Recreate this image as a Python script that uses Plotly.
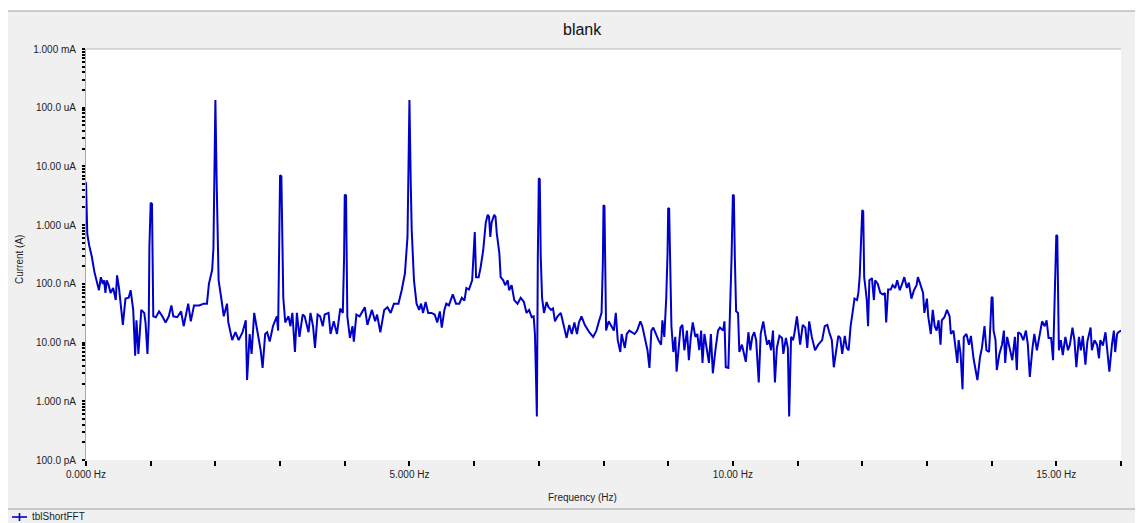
import plotly.graph_objects as go

# ---- data ----
freq_hz = [
    0.00, 0.01, 0.02, 0.05, 0.09, 0.13, 0.175, 0.20, 0.23, 0.26, 0.28, 0.30, 0.32, 0.35, 0.38, 0.42,
    0.46, 0.48, 0.51, 0.54, 0.57, 0.61, 0.66, 0.69, 0.73, 0.76, 0.78, 0.81, 0.83, 0.855, 0.90, 0.92,
    0.95, 0.97, 0.98, 1.00, 1.02, 1.03, 1.04, 1.08, 1.13, 1.18, 1.23, 1.28, 1.32, 1.35, 1.41, 1.47,
    1.51, 1.58, 1.62, 1.67, 1.75, 1.82, 1.87, 1.90, 1.95, 1.97, 1.985, 2.00, 2.02, 2.035, 2.05, 2.09,
    2.13, 2.18, 2.20, 2.26, 2.31, 2.36, 2.42, 2.47, 2.49, 2.53, 2.56, 2.60, 2.65, 2.70, 2.73, 2.77,
    2.80, 2.84, 2.89, 2.95, 2.97, 2.99, 3.00, 3.02, 3.03, 3.05, 3.08, 3.13, 3.16, 3.19, 3.23, 3.26,
    3.30, 3.35, 3.38, 3.44, 3.47, 3.51, 3.54, 3.58, 3.62, 3.66, 3.69, 3.75, 3.78, 3.83, 3.88, 3.93,
    3.97, 3.99, 4.00, 4.02, 4.03, 4.04, 4.08, 4.12, 4.14, 4.18, 4.23, 4.28, 4.31, 4.35, 4.39, 4.42,
    4.47, 4.50, 4.55, 4.61, 4.66, 4.71, 4.76, 4.83, 4.88, 4.93, 4.97, 4.985, 5.00, 5.02, 5.035, 5.07,
    5.11, 5.15, 5.18, 5.21, 5.25, 5.29, 5.34, 5.39, 5.43, 5.47, 5.50, 5.54, 5.57, 5.61, 5.67, 5.72,
    5.77, 5.81, 5.85, 5.88, 5.92, 5.97, 5.99, 6.01, 6.03, 6.07, 6.10, 6.14, 6.18, 6.21, 6.23, 6.25,
    6.27, 6.31, 6.33, 6.35, 6.39, 6.41, 6.45, 6.48, 6.52, 6.54, 6.58, 6.62, 6.67, 6.72, 6.77, 6.81,
    6.85, 6.89, 6.92, 6.94, 6.955, 6.97, 6.985, 7.00, 7.015, 7.03, 7.05, 7.08, 7.12, 7.15, 7.19, 7.22,
    7.25, 7.29, 7.34, 7.39, 7.43, 7.47, 7.51, 7.55, 7.59, 7.62, 7.66, 7.71, 7.78, 7.84, 7.89, 7.93,
    7.97, 7.99, 8.00, 8.015, 8.03, 8.04, 8.08, 8.11, 8.16, 8.19, 8.22, 8.26, 8.28, 8.33, 8.36, 8.40,
    8.44, 8.48, 8.52, 8.57, 8.60, 8.64, 8.68, 8.71, 8.74, 8.77, 8.81, 8.85, 8.89, 8.91, 8.94, 8.97,
    8.99, 9.00, 9.015, 9.03, 9.05, 9.08, 9.11, 9.13, 9.16, 9.19, 9.22, 9.25, 9.29, 9.32, 9.35, 9.38,
    9.42, 9.45, 9.48, 9.51, 9.53, 9.56, 9.60, 9.63, 9.66, 9.69, 9.73, 9.77, 9.80, 9.85, 9.87, 9.89,
    9.93, 9.96, 9.98, 10.00, 10.015, 10.03, 10.05, 10.08, 10.10, 10.14, 10.17, 10.20, 10.24, 10.27, 10.30, 10.33,
    10.36, 10.40, 10.43, 10.47, 10.50, 10.53, 10.56, 10.59, 10.62, 10.65, 10.68, 10.72, 10.76, 10.78, 10.82, 10.85,
    10.87, 10.90, 10.93, 10.95, 10.99, 11.02, 11.04, 11.08, 11.12, 11.15, 11.18, 11.22, 11.27, 11.32, 11.38, 11.42,
    11.46, 11.49, 11.53, 11.56, 11.60, 11.63, 11.66, 11.69, 11.73, 11.76, 11.79, 11.82, 11.85, 11.88, 11.92, 11.94,
    11.96, 11.98, 12.00, 12.015, 12.03, 12.05, 12.07, 12.09, 12.11, 12.15, 12.18, 12.20, 12.24, 12.28, 12.32, 12.35,
    12.37, 12.40, 12.44, 12.47, 12.51, 12.54, 12.58, 12.61, 12.65, 12.69, 12.72, 12.76, 12.80, 12.84, 12.86, 12.89,
    12.94, 12.96, 13.00, 13.02, 13.06, 13.09, 13.12, 13.15, 13.18, 13.21, 13.23, 13.27, 13.31, 13.35, 13.37, 13.41,
    13.44, 13.47, 13.49, 13.52, 13.55, 13.57, 13.61, 13.65, 13.68, 13.72, 13.78, 13.82, 13.85, 13.89, 13.92, 13.96,
    13.98, 14.00, 14.015, 14.03, 14.06, 14.08, 14.12, 14.16, 14.19, 14.21, 14.24, 14.28, 14.32, 14.36, 14.39, 14.41,
    14.45, 14.49, 14.53, 14.56, 14.59, 14.63, 14.66, 14.70, 14.75, 14.78, 14.82, 14.85, 14.88, 14.92, 14.95, 14.97,
    15.00, 15.015, 15.03, 15.04, 15.07, 15.10, 15.14, 15.18, 15.21, 15.25, 15.28, 15.31, 15.35, 15.38, 15.41, 15.45,
    15.48, 15.53, 15.55, 15.59, 15.63, 15.66, 15.68, 15.72, 15.76, 15.79, 15.82, 15.86, 15.89, 15.91, 15.94, 15.96,
    15.99, 16.00,
]

current_nA = [
    5400, 800, 700, 450, 290, 160, 100, 78, 130, 100, 115, 70, 115, 95, 70, 85,
    53, 140, 85, 45, 20, 56, 58, 78, 36, 6.0, 24, 6.4, 16, 36, 32, 22,
    6.4, 22, 420, 2400, 2300, 250, 28, 27, 34, 28, 22, 28, 43, 28, 27, 34,
    19, 46, 23, 43, 43, 46, 46, 100, 172, 400, 17000, 135000, 5400, 250, 115, 58,
    28, 46, 22, 11, 15, 11, 15, 24, 2.3, 14, 6.4, 32, 14, 7.4, 3.7, 14,
    15, 10.4, 19, 28, 16, 330, 7100, 6800, 1370, 58, 22, 28, 19, 32, 6.9, 32,
    12.5, 30, 28, 15, 32, 19, 8.1, 30, 28, 19, 30, 32, 14, 23, 14, 38,
    32, 290, 3300, 3200, 290, 28, 12, 19, 10.4, 30, 28, 34, 40, 20, 28, 36,
    23, 30, 15, 36, 40, 32, 46, 46, 78, 150, 630, 17000, 135000, 5400, 830, 115,
    46, 36, 46, 32, 49, 32, 32, 30, 22, 34, 18, 36, 46, 43, 66, 46,
    46, 58, 52, 85, 80, 115, 250, 760, 130, 130, 190, 370, 1100, 1500, 1400, 630,
    1100, 1500, 1400, 730, 330, 130, 115, 95, 115, 78, 95, 53, 46, 58, 49, 32,
    36, 27, 28, 14, 3.0, 0.55, 300, 6300, 6000, 290, 58, 32, 49, 40, 36, 38,
    23, 28, 32, 19, 12, 20, 14, 22, 14, 22, 28, 20, 15, 12.5, 16, 23,
    32, 220, 2200, 2100, 170, 16, 23, 20, 16, 32, 11, 6.9, 14, 8.1, 14, 16,
    15, 14, 16, 23, 19, 11, 7.4, 3.7, 16, 18, 14, 11, 9.2, 24, 12.5, 58,
    330, 1950, 1900, 190, 19, 6.9, 12.5, 3.2, 9.2, 18, 20, 7.4, 16, 5.0, 12.5, 22,
    12.5, 14, 7.4, 16, 4.5, 14, 7.4, 4.5, 14, 3.0, 7.4, 16, 18, 16, 23, 3.8,
    3.7, 40, 290, 3300, 3200, 290, 34, 32, 6.9, 9.2, 6.4, 4.7, 15, 7.4, 12.5, 15,
    11, 2.1, 14, 23, 14, 9.2, 11, 7.4, 16, 2.1, 8.1, 13, 12, 6.4, 12, 8.1,
    0.55, 12.5, 11, 14, 28, 16, 9.2, 20, 18, 8.1, 23, 12.5, 7.4, 9.2, 11, 19,
    20, 15, 11, 3.8, 8.1, 13, 12, 6.4, 13, 8.1, 7.4, 19, 32, 56, 53, 70,
    130, 420, 1800, 1700, 130, 85, 53, 19, 115, 125, 53, 115, 100, 70, 66, 70,
    22, 80, 80, 95, 85, 115, 78, 95, 130, 85, 105, 56, 78, 95, 130, 105,
    70, 32, 56, 28, 14, 36, 19, 16, 24, 9.2, 24, 27, 36, 28, 14, 16,
    7.4, 4.5, 11, 6.4, 1.6, 12.5, 14, 9.2, 13, 5.4, 2.3, 5.6, 8.1, 19, 7.4, 6.9,
    19, 60, 58, 16, 11, 3.4, 6.4, 9.2, 16, 4.5, 12.5, 8.1, 5.0, 12.5, 3.4, 15,
    14, 11, 16, 9.2, 2.6, 7.8, 14, 7.4, 14, 23, 19, 24, 12, 12, 5.0, 53,
    680, 650, 32, 7.4, 11, 6.1, 12.5, 7.4, 9.2, 18, 11, 3.8, 12.5, 7.4, 13, 4.2,
    10.4, 18, 7.4, 11, 9.2, 5.4, 11, 8.9, 15, 7.4, 3.2, 9.2, 16, 6.9, 14, 15,
    16, 16,
]

series_name = "tblShortFFT"
chart_title = "blank"
x_title = "Frequency (Hz)"
y_title = "Current (A)"

x_tick_vals = list(range(0, 17))
x_tick_labels = {0: "0.000 Hz", 5: "5.000 Hz", 10: "10.00 Hz", 15: "15.00 Hz"}
y_decades_nA = [0.1, 1, 10, 100, 1000, 10000, 100000, 1000000]
y_decade_labels = ["100.0 pA", "1.000 nA", "10.00 nA", "100.0 nA",
                   "1.000 uA", "10.00 uA", "100.0 uA", "1.000 mA"]

# ---- geometry: the page places the figure at an 8px body offset ----
OFF = 8
W, H = 1143 - OFF, 523 - OFF
L, R, T, B = 86 - OFF, 1121 - OFF, 49 - OFF, 460 - OFF


def px(x):  # page pixel x -> paper coordinate
    return (x - OFF - L) / (R - L)


def py(y):  # page pixel y -> paper coordinate
    return (B - (y - OFF)) / (B - T)


# y ticks: decades + 2..9 minor positions, labels only on decades
y_tick_vals, y_tick_text = [], []
for i, d in enumerate(y_decades_nA):
    y_tick_vals.append(d)
    y_tick_text.append(y_decade_labels[i])
    if i < len(y_decades_nA) - 1:
        for m in range(2, 10):
            y_tick_vals.append(d * m)
            y_tick_text.append("")

fig = go.Figure()
fig.add_trace(go.Scatter(
    x=freq_hz, y=current_nA, mode="lines", name=series_name,
    line=dict(color="#0000CC", width=2), showlegend=False,
))

axis_font = dict(family="Liberation Sans, Arial, sans-serif", size=10, color="#222222")

fig.update_layout(
    width=W, height=H,
    margin=dict(l=L, r=W - R, t=T, b=H - B),
    paper_bgcolor="#f0f0f0",
    plot_bgcolor="white",
    showlegend=False,
    xaxis=dict(
        range=[0, 16], tickmode="array", tickvals=x_tick_vals,
        ticktext=[x_tick_labels.get(v, "") for v in x_tick_vals],
        ticks="outside", ticklen=5, tickwidth=2, tickcolor="black",
        showgrid=False, zeroline=False, showline=False,
        tickfont=axis_font,
    ),
    yaxis=dict(
        type="log", range=[-1, 6], tickmode="array",
        tickvals=y_tick_vals, ticktext=y_tick_text,
        ticks="outside", ticklen=3, tickwidth=2, tickcolor="black",
        showgrid=False, zeroline=False,
        showline=True, linecolor="#a8a8a8", linewidth=1,
        tickfont=axis_font, ticklabelstandoff=4,
    ),
    shapes=[
        # white strip above the framed panel
        dict(type="rect", xref="paper", yref="paper", layer="above",
             x0=px(0), x1=px(1160), y0=py(11), y1=py(0),
             fillcolor="white", line=dict(width=0)),
        # frame top edge
        dict(type="line", xref="paper", yref="paper",
             x0=px(7), x1=px(1160), y0=py(11), y1=py(11),
             line=dict(color="#a0a0a0", width=1)),
        # separator above legend area
        dict(type="line", xref="paper", yref="paper",
             x0=px(7), x1=px(1160), y0=py(509), y1=py(509),
             line=dict(color="#a0a0a0", width=1)),
        # top edge of plot area
        dict(type="line", xref="paper", yref="paper",
             x0=px(86), x1=px(1121), y0=py(49), y1=py(49),
             line=dict(color="#b8b8b8", width=1)),
        # legend swatch
        dict(type="line", xref="paper", yref="paper",
             x0=px(12), x1=px(27), y0=py(517), y1=py(517),
             line=dict(color="#0000CC", width=1.6)),
        dict(type="line", xref="paper", yref="paper",
             x0=px(19.5), x1=px(19.5), y0=py(513), y1=py(521),
             line=dict(color="#0000CC", width=1.6)),
    ],
    annotations=[
        dict(text=chart_title, xref="paper", yref="paper", x=px(582), y=py(30),
             showarrow=False, xanchor="center", yanchor="middle",
             font=dict(family="Liberation Sans, Arial, sans-serif", size=16, color="#111111")),
        dict(text=x_title, xref="paper", yref="paper", x=px(582), y=py(497),
             showarrow=False, xanchor="center", yanchor="middle", font=axis_font),
        dict(text=y_title, xref="paper", yref="paper", x=px(20), y=py(260),
             showarrow=False, xanchor="center", yanchor="middle", textangle=-90,
             font=axis_font),
        dict(text=series_name, xref="paper", yref="paper", x=px(30), y=py(516),
             showarrow=False, xanchor="left", yanchor="middle", font=axis_font),
    ],
)

fig.write_html("out.html")
